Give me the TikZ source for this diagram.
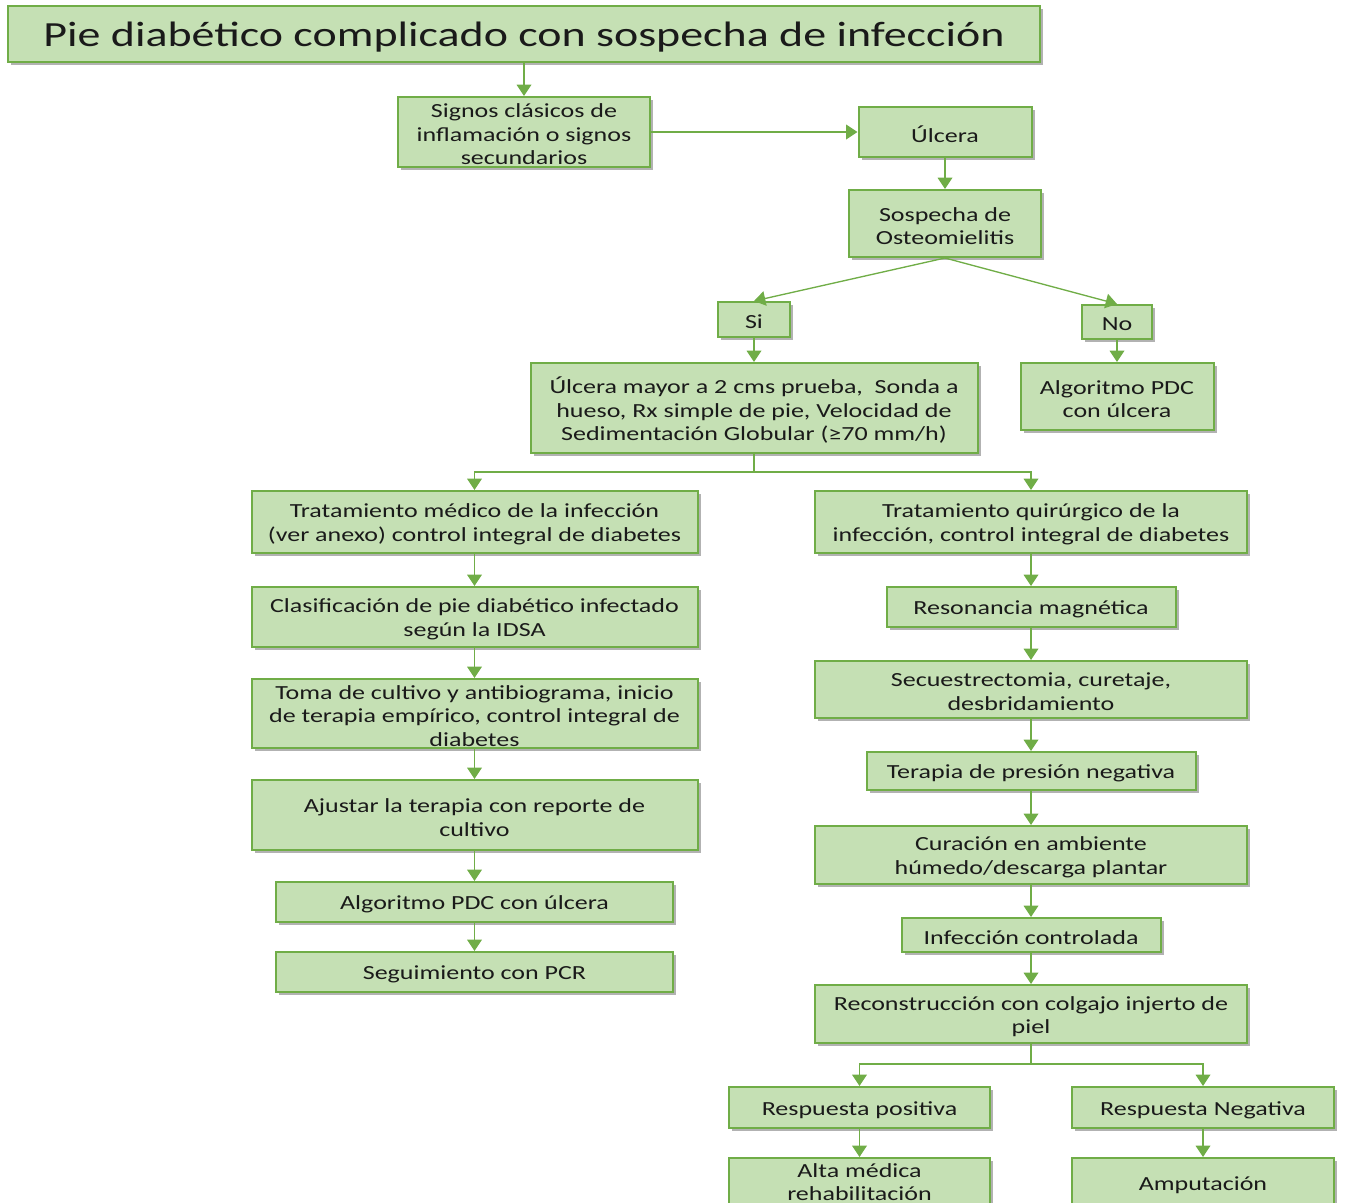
\documentclass[tikz,border=0pt]{standalone}
\usepackage{fontspec}
\setmainfont{Carlito}[FakeStretch=1.3]
\usetikzlibrary{arrows.meta,shadows,calc}
\definecolor{boxfill}{HTML}{C5E0B4}
\definecolor{boxline}{HTML}{70AD47}
\definecolor{txt}{HTML}{1A1A1A}

% a step box: name, centre x, centre y, width, height, text (sizes in px units)
\newcommand\flowbox[6]{%
  \node[box, wh={#4}{#5}] (#1) at (#2,#3) {};
  \node[boxtext] (#1-t) at ([yshift=-1.8pt]#1.center) {#6};}

\begin{document}
\begin{tikzpicture}[x=0.75pt,y=-0.75pt,
  box/.style={draw=boxline, line width=1.5pt, fill=boxfill, inner sep=0pt,
    drop shadow={shadow xshift=2.5pt, shadow yshift=-2.5pt, fill=black, opacity=0.3}},
  boxtext/.style={text=txt, align=center, inner sep=0pt,
    font=\fontsize{15}{17.6}\selectfont},
  wh/.style 2 args={minimum width=#1*0.75pt, minimum height=#2*0.75pt},
  link/.style={draw=boxline, line width=1pt, -{Triangle[width=11pt,length=8.5pt]}},
  plain/.style={draw=boxline, line width=1pt}]

\useasboundingbox (0,0) rectangle (1346,1203);

% title and first steps
\node[box, wh={1032}{56}] (title) at (524,34) {};
\node[text=txt, inner sep=0pt, font=\fontsize{26.5}{30}\selectfont] (title-t)
  at ([yshift=-2pt]title.center) {Pie diabético complicado con sospecha de infección};
\flowbox{signos}{524}{132}{252}{70}{Signos clásicos de\\inflamación o signos\\secundarios}
\flowbox{ulcera}{945}{132}{173}{50}{Úlcera}
\flowbox{sosp}{945}{223.5}{192}{67}{Sospecha de\\Osteomielitis}
\flowbox{si}{754}{319.5}{72}{35}{Si}
\flowbox{no}{1117}{322}{70}{34}{No}
\flowbox{mayor}{754}{408}{447}{90}{Úlcera mayor a 2 cms prueba,\ \ Sonda a\\hueso, Rx simple de pie, Velocidad de\\Sedimentación Globular (≥70 mm/h)}
\flowbox{algR}{1117}{396.5}{193}{67}{Algoritmo PDC\\con úlcera}

% medical branch
\flowbox{tmed}{474.5}{522}{446}{62}{Tratamiento médico de la infección\\(ver anexo) control integral de diabetes}
\flowbox{clas}{474.5}{617}{446}{60}{Clasificación de pie diabético infectado\\según la IDSA}
\flowbox{toma}{474.5}{713.5}{446}{69}{Toma de cultivo y antibiograma, inicio\\de terapia empírico, control integral de\\diabetes}
\flowbox{ajus}{474.5}{815}{446}{70}{Ajustar la terapia con reporte de\\cultivo}
\flowbox{algL}{474.5}{902}{397}{40}{Algoritmo PDC con úlcera}
\flowbox{segu}{474.5}{972}{397}{40}{Seguimiento con PCR}

% surgical branch
\flowbox{tqui}{1031}{522}{432}{62}{Tratamiento quirúrgico de la\\infección, control integral de diabetes}
\flowbox{reso}{1031}{607}{289}{40}{Resonancia magnética}
\flowbox{secu}{1031}{689.5}{432}{57}{Secuestrectomia, curetaje,\\desbridamiento}
\flowbox{tera}{1031}{771}{329}{38}{Terapia de presión negativa}
\flowbox{cura}{1031}{855}{432}{58}{Curación en ambiente\\húmedo/descarga plantar}
\flowbox{infc}{1031}{935}{259}{34}{Infección controlada}
\flowbox{reco}{1031}{1014}{432}{58}{Reconstrucción con colgajo injerto de\\piel}
\flowbox{rpos}{859.5}{1107.5}{261}{41}{Respuesta positiva}
\flowbox{rneg}{1203}{1107.5}{262}{41}{Respuesta Negativa}

% last row runs past the lower edge of the page
\node[box, wh={261}{50}] (alta) at (859.5,1183) {};
\node[boxtext] (alta-t) at ([yshift=0.6pt]alta.center) {Alta médica\\rehabilitación};
\flowbox{ampu}{1203}{1183}{262}{50}{Amputación}

% connectors
\draw[link] (title.south -| signos.north) -- (signos.north);
\draw[link] (signos.east) -- (ulcera.west);
\draw[link] (ulcera.south) -- (sosp.north);
\draw[link] (sosp.south) -- (si.north);
\draw[link] (sosp.south) -- (no.north);
\draw[link] (si.south) -- (mayor.north -| si.south);
\draw[link] (no.south) -- (algR.north -| no.south);

\draw[plain] (mayor.south) -- ++(0,18) coordinate (split1);
\draw[link] (split1) -| (tmed.north);
\draw[link] (split1) -| (tqui.north);

\draw[link] (tmed.south) -- (clas.north);
\draw[link] (clas.south) -- (toma.north);
\draw[link] (toma.south) -- (ajus.north);
\draw[link] (ajus.south) -- (algL.north);
\draw[link] (algL.south) -- (segu.north);

\draw[link] (tqui.south) -- (reso.north);
\draw[link] (reso.south) -- (secu.north);
\draw[link] (secu.south) -- (tera.north);
\draw[link] (tera.south) -- (cura.north);
\draw[link] (cura.south) -- (infc.north);
\draw[link] (infc.south) -- (reco.north);

\draw[plain] (reco.south) -- ++(0,20) coordinate (split2);
\draw[link] (split2) -| (rpos.north);
\draw[link] (split2) -| (rneg.north);
\draw[link] (rpos.south) -- (alta.north);
\draw[link] (rneg.south) -- (ampu.north);
\end{tikzpicture}
\end{document}
